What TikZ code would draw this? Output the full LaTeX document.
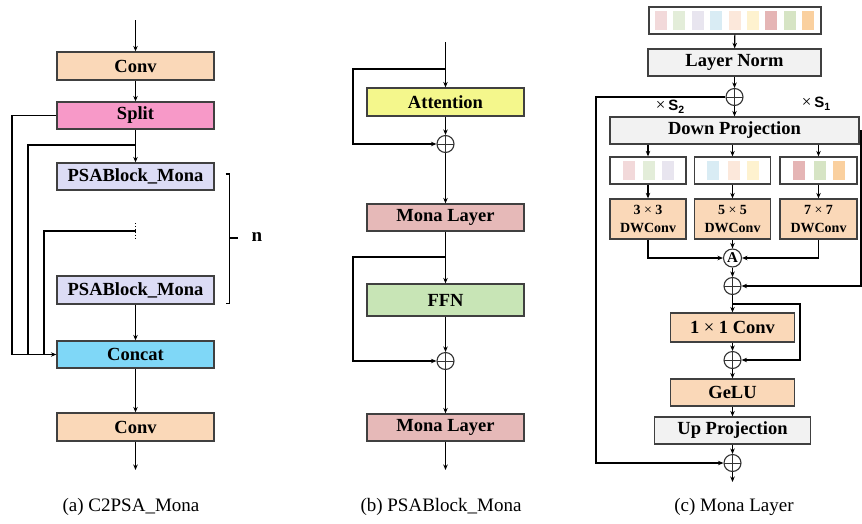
\documentclass[tikz,border=0pt]{standalone}
\usepackage{fontspec}
\setmainfont{Liberation Serif}
\newfontfamily\sansf{Liberation Sans}
\usetikzlibrary{arrows.meta,calc}
\definecolor{cconv}{HTML}{FAD8B8}
\definecolor{csplit}{HTML}{F799C8}
\definecolor{cpsa}{HTML}{DCDCF5}
\definecolor{cconcat}{HTML}{7FD7F7}
\definecolor{catt}{HTML}{F4F78C}
\definecolor{cmona}{HTML}{E6B9B8}
\definecolor{cffn}{HTML}{C8E5B6}
\definecolor{cgray}{HTML}{F2F2F2}
\definecolor{tA}{HTML}{F2D9DA}
\definecolor{tB}{HTML}{E3EDD9}
\definecolor{tC}{HTML}{E8E5EF}
\definecolor{tD}{HTML}{D9ECF4}
\definecolor{tE}{HTML}{FCE8DB}
\definecolor{tF}{HTML}{FEF2CF}
\definecolor{tG}{HTML}{E5B5B5}
\definecolor{tH}{HTML}{D6E4C4}
\definecolor{tI}{HTML}{FAD09F}
\begin{document}
\begin{tikzpicture}[x=1pt,y=-1pt,
  box/.style={draw=black!75, line width=1.3pt, inner sep=0pt, font=\bfseries\fontsize{18.5}{20}\selectfont},
  dwbox/.style={box, fill=cconv, minimum width=76pt, minimum height=40pt, align=center, font=\bfseries\fontsize{14}{17.5}\selectfont},
  tokbox/.style={draw=black!75, line width=1.3pt, inner sep=0pt, fill=white},
  arr/.style={line width=1.15pt, -{Stealth[length=5.5pt,width=4.5pt]}},
  ln/.style={line width=1.15pt},
  plus/.style={circle, draw=black!80, line width=1.1pt, minimum size=17pt, inner sep=0pt, fill=white,
    path picture={\draw[line width=0.9pt] (path picture bounding box.north) -- (path picture bounding box.south)
      (path picture bounding box.west) -- (path picture bounding box.east);}},
  captext/.style={font=\fontsize{19}{21}\selectfont, inner sep=0pt}
]
\useasboundingbox (0,0) rectangle (862,523);

% ---------------- Panel (a) ----------------
\coordinate (aTop) at (135.5,20);
\node[box,fill=cconv,minimum width=157pt,minimum height=28pt] (aconv1) at (135.5,66) {Conv};
\node[box,fill=csplit,minimum width=157pt,minimum height=27pt] (asplit) at (135.5,115.5) {Split};
\node[box,fill=cpsa,minimum width=157pt,minimum height=27pt] (apsa1) at (135.5,176.5) {PSABlock\_Mona};
\coordinate (adotT) at (135.5,223);
\coordinate (adotB) at (135.5,238);
\node[box,fill=cpsa,minimum width=157pt,minimum height=28pt] (apsa2) at (135.5,290) {PSABlock\_Mona};
\node[box,fill=cconcat,minimum width=157pt,minimum height=27pt] (aconcat) at (135.5,354.5) {Concat};
\node[box,fill=cconv,minimum width=157pt,minimum height=28pt] (aconv2) at (135.5,427) {Conv};
\coordinate (aEnd) at (135.5,470);
\coordinate (abr1) at (135.5,145);
\coordinate (abr2) at (135.5,231);

\draw[arr] (aTop) -- (aconv1);
\draw[arr] (aconv1) -- (asplit);
\draw[arr] (asplit) -- (apsa1);
\draw[line width=0.9pt, dotted] (adotT) -- (adotB);
\draw[arr] (apsa2) -- (aconcat);
\draw[arr] (aconcat) -- (aconv2);
\draw[arr] (aconv2) -- (aEnd);
\draw[arr] (asplit.west) -- (12,115.5) |- (aconcat.west);
\draw[ln] (abr1) -| (28,354.5);
\draw[ln] (abr2) -| (44,354.5);
% bracket
\draw[ln] (225.5,174) -- (229.5,174) -- (229.5,303.5) -- (225.5,303.5);
\draw[ln] (229.5,238) -- (238,238);
\node[font=\bfseries\fontsize{19}{20}\selectfont] (nlab) at (257,237) {n};
\node[captext] (capa) at (131,507) {(a) C2PSA\_Mona};

% ---------------- Panel (b) ----------------
\coordinate (bTop) at (445.5,42);
\coordinate (bbr1) at (445.5,69);
\node[box,fill=catt,minimum width=157pt,minimum height=28pt] (batt) at (445.5,102) {Attention};
\node[plus] (bp1) at (445.5,144) {};
\node[box,fill=cmona,minimum width=157pt,minimum height=27pt] (bmona1) at (445.5,217.5) {Mona Layer};
\coordinate (bbr2) at (445.5,257);
\node[box,fill=cffn,minimum width=157pt,minimum height=32pt] (bffn) at (445.5,300) {FFN};
\node[plus] (bp2) at (445.5,361) {};
\node[box,fill=cmona,minimum width=157pt,minimum height=27pt] (bmona2) at (445.5,427.5) {Mona Layer};
\coordinate (bEnd) at (445.5,470);

\draw[arr] (bTop) -- (batt);
\draw[arr] (batt) -- (bp1);
\draw[arr] (bp1) -- (bmona1);
\draw[arr] (bmona1) -- (bffn);
\draw[arr] (bffn) -- (bp2);
\draw[arr] (bp2) -- (bmona2);
\draw[arr] (bmona2) -- (bEnd);
\draw[arr] (bbr1) -- (353,69) |- (bp1.west);
\draw[arr] (bbr2) -- (353,257) |- (bp2.west);
\node[captext] (capb) at (441,507) {(b) PSABlock\_Mona};

% ---------------- Panel (c) ----------------
\node[tokbox,minimum width=172pt,minimum height=27pt] (ctok) at (735,20.5) {};
\foreach \c [count=\i from 0] in {tA,tB,tC,tD,tE,tF,tG,tH,tI}
  \fill[\c] ({661+18.4*\i-6},11) rectangle ({661+18.4*\i+6},30);
\node[box,fill=cgray,minimum width=173pt,minimum height=27pt] (cln) at (734.5,62.5) {Layer Norm};
\node[plus] (cp1) at (734.5,97) {};
\node[box,fill=cgray,minimum width=249pt,minimum height=27pt] (cdp) at (734.5,130.5) {Down Projection};
\node[inner sep=0pt] (cs2) at (670,107) {{\fontsize{17}{17}\selectfont ×\,}{\sansf\bfseries\fontsize{15}{15}\selectfont S\raisebox{-0.35ex}{\fontsize{10.5}{10.5}\selectfont 2}}};
\node[inner sep=0pt] (cs1) at (816,104) {{\fontsize{17}{17}\selectfont ×\,}{\sansf\bfseries\fontsize{15}{15}\selectfont S\raisebox{-0.35ex}{\fontsize{10.5}{10.5}\selectfont 1}}};

\node[tokbox,minimum width=76pt,minimum height=27pt] (ct1) at (648,170.5) {};
\node[tokbox,minimum width=76pt,minimum height=27pt] (ct2) at (732.5,170.5) {};
\node[tokbox,minimum width=77pt,minimum height=27pt] (ct3) at (818.5,170.5) {};
\foreach \c/\dx in {tA/-19.5,tB/1,tC/20} \fill[\c] ({648+\dx-6},161) rectangle ({648+\dx+6},180);
\foreach \c/\dx in {tD/-19.5,tE/1,tF/20} \fill[\c] ({732.5+\dx-6},161) rectangle ({732.5+\dx+6},180);
\foreach \c/\dx in {tG/-19.5,tH/1,tI/20} \fill[\c] ({818.5+\dx-6},161) rectangle ({818.5+\dx+6},180);

\node[dwbox] (cdw1) at (648,219) {3 {\mdseries ×} 3\\DWConv};
\node[dwbox] (cdw2) at (732.5,219) {5 {\mdseries ×} 5\\DWConv};
\node[dwbox,minimum width=77pt] (cdw3) at (818.5,219) {7 {\mdseries ×} 7\\DWConv};
\node[circle, draw=black!80, line width=1.1pt, minimum size=18pt, inner sep=0pt, fill=white,
  font=\bfseries\fontsize{15}{15}\selectfont] (cA) at (732.5,258) {A};
\node[plus] (cp2) at (732.5,286) {};
\coordinate (cbr) at (732.5,304);
\node[box,fill=cconv,minimum width=124pt,minimum height=29pt] (cc11) at (732.5,327.5) {1 {\mdseries ×} 1 Conv};
\node[plus] (cp3) at (732.5,360) {};
\node[box,fill=cconv,minimum width=124pt,minimum height=27pt] (cgelu) at (732.5,392.5) {GeLU};
\node[box,fill=cgray,minimum width=156pt,minimum height=27pt] (cup) at (732.5,430.5) {Up Projection};
\node[plus] (cp4) at (732.5,463) {};
\coordinate (cEnd) at (732.5,482);

\draw[arr] (ctok) -- (cln);
\draw[arr] (cln) -- (cp1);
\draw[arr] (cp1) -- (cdp);
\draw[arr] (cdp.south -| ct1.north) -- (ct1.north);
\draw[arr] (cdp.south -| ct2.north) -- (ct2.north);
\draw[arr] (cdp.south -| ct3.north) -- (ct3.north);
\draw[arr] (ct1) -- (cdw1);
\draw[arr] (ct2) -- (cdw2);
\draw[arr] (ct3) -- (cdw3);
\draw[arr] (cdw1.south) |- (cA.west);
\draw[arr] (cdw2) -- (cA);
\draw[arr] (cdw3.south) |- (cA.east);
\draw[arr] (cA) -- (cp2);
\draw[arr] (cp2) -- (cc11);
\draw[arr] (cc11) -- (cp3);
\draw[arr] (cp3) -- (cgelu);
\draw[arr] (cgelu) -- (cup);
\draw[arr] (cup) -- (cp4);
\draw[arr] (cp4) -- (cEnd);
\draw[arr] (cbr) -- (800,304) |- (cp3.east);
\draw[arr] (cp1.west) -- (596,97) |- (cp4.west);
\draw[arr] (cdp.east) -- (861,130.5) |- (cp2.east);
\node[captext] (capc) at (734,507) {(c) Mona Layer};
\end{tikzpicture}
\end{document}
